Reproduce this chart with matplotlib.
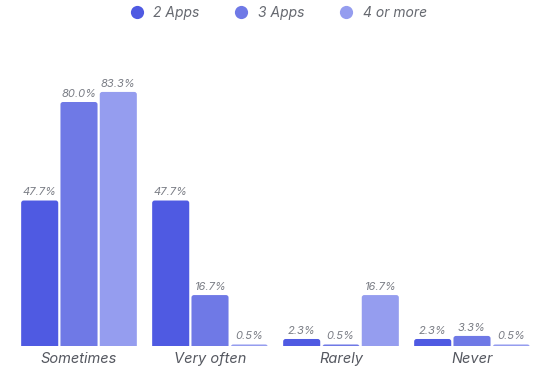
import matplotlib
matplotlib.use("Agg")
import matplotlib.pyplot as plt
from matplotlib.lines import Line2D
from matplotlib.patches import FancyBboxPatch
import numpy as np

categories = ["Sometimes", "Very often", "Rarely", "Never"]
series_names = ["2 Apps", "3 Apps", "4 or more"]
apps2 = [47.7, 47.7, 2.3, 2.3]
apps3 = [80.0, 16.7, 0.5, 3.3]
apps4 = [83.3, 0.5, 16.7, 0.5]
colors = ["#4f5ae2", "#6f79e6", "#959def"]

plt.rcParams['font.family'] = ['Inter', 'DejaVu Sans']

fig = plt.figure(figsize=(5.5, 3.73), dpi=100)
ax = fig.add_axes([13.5/550, 27/373, 524/550, 286/373])

x = np.arange(len(categories))
w = 0.283
offs = [-0.3, 0.0, 0.3]
r_x = 2.5 / 131
r_y = 2.5 / 3.05
for vals, off, c in zip([apps2, apps3, apps4], offs, colors):
    bars = ax.bar(x + off, vals, width=w, color=c, edgecolor='none')
    for b in bars:
        b.set_visible(False)
        bx, by = b.get_xy()
        p = FancyBboxPatch((bx, by - 3), b.get_width(), b.get_height() + 3,
                           boxstyle=f"round,pad=0,rounding_size={r_x}",
                           mutation_aspect=r_y / r_x, facecolor=c,
                           edgecolor='none', clip_on=True)
        ax.add_patch(p)
    for xi, v in zip(x + off, vals):
        ax.text(xi, v + 1.0, f"{v:.1f}%", ha='center', va='bottom',
                fontsize=8, style='italic', color='#7a7d85')

ax.set_xlim(-0.5, 3.5)
ax.set_ylim(0, 286/3.05)
ax.set_xticks(x)
ax.set_xticklabels(categories, fontsize=10.5, style='italic', color='#555860')
ax.tick_params(axis='x', length=0, pad=4)
ax.set_yticks([])
for s in ax.spines.values():
    s.set_visible(False)

handles = [Line2D([], [], marker='o', linestyle='none', markersize=9.5,
                  markerfacecolor=c, markeredgecolor='none') for c in colors]
fig.legend(handles, series_names, loc='center', bbox_to_anchor=(0.5, 1 - 13/373),
           ncol=3, frameon=False, handletextpad=0.2, columnspacing=2.0,
           prop={'size': 10, 'style': 'italic'}, labelcolor='#666970')

fig.savefig("out.png", dpi=100)
